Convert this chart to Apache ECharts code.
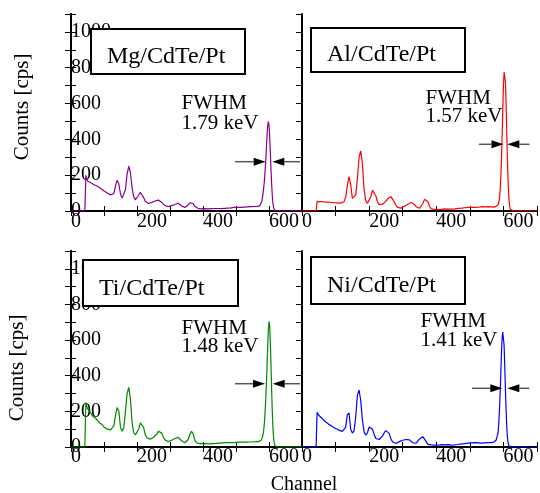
<!DOCTYPE html>
<html>
<head>
<meta charset="utf-8">
<script src="https://cdn.jsdelivr.net/npm/echarts@6/dist/echarts.min.js"></script>
<style>html,body{margin:0;padding:0;background:#fff}#c{width:540px;height:493px}</style>
</head>
<body>
<div id="c"></div>
<script>
// ---- data ----
const channels = [0, 42,
  45,50,55,60,65,70,75,80,85,90,
  95,100,105,110,115,120,125,130,135,140,
  145,150,155,160,165,170,175,180,185,190,
  195,200,205,210,215,220,225,230,235,240,
  245,250,255,260,265,270,275,280,285,290,
  295,300,305,310,315,320,325,330,335,340,
  345,350,355,360,365,370,375,380,385,390,
  395,400,405,410,415,420,425,430,435,440,
  445,450,455,460,465,470,475,480,485,490,
  495,500,505,510,515,520,525,530,535,540,
  545,550,555,560,565,
  568,570,572,574,576,578,580,582,584,586,
  588,590,592,594,596,598,600,602,604,606,
  608,610,612,614,616,618,620,622,624,626,
  628,630,
  640,650,660,670,680,690,700];

const countsMg = [0, 0,
  200,168,160,158,150,147,140,138,130,126,
  120,112,108,100,96,90,85,98,140,172,
  150,95,72,78,120,205,250,215,130,80,
  62,68,88,105,100,75,55,45,42,44,
  48,52,56,58,61,56,48,38,30,25,
  24,27,30,33,36,40,43,38,28,22,
  20,24,34,46,52,42,26,18,15,13,
  12,11,13,10,12,11,13,12,14,13,
  14,15,13,16,15,17,16,18,17,19,
  20,19,21,22,20,23,22,24,23,25,
  24,26,25,24,26,
  25,27,29,33,40,52,72,100,130,170,
  220,275,345,420,475,499,480,420,330,235,
  150,85,42,18,7,2,0,0,0,0,
  0,0,
  0,0,0,0,0,0,0];

const countsAl = [0, 0,
  52,50,53,49,51,48,50,47,49,48,
  46,48,45,47,44,46,52,75,140,192,
  150,70,62,90,180,300,335,260,120,55,
  43,50,80,115,118,85,50,36,34,38,
  45,55,68,78,80,70,50,32,20,15,
  16,20,26,32,38,44,47,45,36,24,
  16,15,22,42,65,70,52,25,12,9,
  9,10,8,11,9,10,12,10,11,12,
  11,13,12,14,15,14,16,17,18,19,
  20,19,21,22,20,23,21,22,24,21,
  23,22,24,21,23,
  22,24,22,25,24,26,28,30,35,45,
  65,110,180,280,410,560,700,775,785,720,
  590,430,280,160,80,35,12,4,1,0,
  0,0,
  0,0,0,0,0,0,0];

const countsTi = [0, 0,
  250,215,205,190,175,168,160,150,138,132,
  125,112,108,100,98,96,95,120,180,222,
  200,110,88,110,200,300,335,270,140,80,
  68,75,100,135,140,110,70,52,45,44,
  48,55,62,72,88,92,78,55,40,32,
  30,34,38,42,48,52,54,48,35,26,
  24,28,42,70,88,75,40,24,20,19,
  18,20,17,19,21,18,20,19,22,20,
  21,22,20,23,21,24,23,25,26,24,
  27,26,28,27,29,28,30,27,29,28,
  30,28,29,31,30,
  30,32,31,35,38,45,55,70,95,135,
  190,260,350,450,560,660,705,680,590,460,
  320,195,105,50,20,7,2,0,0,0,
  0,0,
  0,0,0,0,0,0,0];

const countsNi = [0, 0,
  195,178,170,160,150,142,138,128,122,115,
  110,104,100,95,92,88,86,110,180,192,
  100,78,90,170,290,320,260,150,85,67,
  80,112,122,100,70,48,40,42,50,62,
  80,92,95,75,45,28,22,20,24,30,
  34,38,40,42,43,40,32,24,20,22,
  30,45,56,58,48,30,15,11,12,10,
  11,12,10,11,13,10,12,11,13,12,
  11,13,12,11,14,16,18,20,19,21,
  22,20,23,21,24,22,23,25,22,24,
  23,25,24,26,25,
  27,26,28,30,33,38,48,65,80,130,
  200,290,400,520,610,645,640,570,450,320,
  200,110,55,22,8,2,0,0,0,0,
  0,0,
  0,0,0,0,0,0,0];

const sampleNames = ['Mg/CdTe/Pt', 'Al/CdTe/Pt', 'Ti/CdTe/Pt', 'Ni/CdTe/Pt'];
const fwhmLabels = ['1.79 keV', '1.57 keV', '1.48 keV', '1.41 keV'];
const seriesColors = ['#880088', '#ff0000', '#008800', '#0000ff'];
const xTickLabels = [0, 200, 400, 600];
const yTickLabels = [0, 200, 400, 600, 800, 1000];

// ---- chart ----
const FONT = "'Liberation Serif', 'Times New Roman', serif";
const allCounts = [countsMg, countsAl, countsTi, countsNi];
const grids = [
  {left: 71, top: 14, width: 231, height: 197},
  {left: 302, top: 14, width: 237, height: 197},
  {left: 71, top: 251, width: 231, height: 196},
  {left: 302, top: 251, width: 237, height: 196}
];
const xAxes = [], yAxes = [], series = [];
grids.forEach((g, i) => {
  const isLeft = (i % 2 === 0);
  const isTop = i < 2;
  xAxes.push({
    gridIndex: i, type: 'value', position: 'bottom', min: 0, max: 700, interval: 100,
    axisLine: {show: true, lineStyle: {color: '#000', width: 2}},
    axisTick: {show: true, inside: true, length: 5, lineStyle: {color: '#000', width: 1}},
    axisLabel: {show: true, align: 'left', verticalAlign: 'middle', margin: isTop ? 11 : 10,
      fontFamily: FONT, fontSize: 20, color: '#000', hideOverlap: false,
      formatter: v => xTickLabels.indexOf(v) >= 0 ? String(v) : ''},
    splitLine: {show: false}
  });
  xAxes.push({
    gridIndex: i, type: 'value', position: 'top', min: 0, max: 700, interval: 100,
    axisLine: {show: true, lineStyle: {color: '#000', width: 2}},
    axisTick: {show: true, inside: true, length: 5, lineStyle: {color: '#000', width: 1}},
    axisLabel: {show: false}, splitLine: {show: false}
  });
  yAxes.push({
    gridIndex: i, type: 'value', position: 'left', min: 0, max: 1100, interval: 100,
    axisLine: {show: true, lineStyle: {color: '#000', width: 2}},
    axisTick: {show: isLeft, inside: true, length: 5, lineStyle: {color: '#000', width: 1}},
    axisLabel: {show: isLeft, inside: true, align: 'left', margin: 0,
      fontFamily: FONT, fontSize: 20, color: '#000',
      formatter: v => yTickLabels.indexOf(v) >= 0 ? String(v) : ''},
    splitLine: {show: false}
  });
  yAxes.push({
    gridIndex: i, type: 'value', position: 'right', min: 0, max: 1100, interval: 100,
    axisLine: {show: isLeft, lineStyle: {color: '#000', width: 2}},
    axisTick: {show: true, inside: true, length: 6, lineStyle: {color: '#000', width: 1}},
    axisLabel: {show: false}, splitLine: {show: false}
  });
  series.push({
    type: 'line', xAxisIndex: i * 2, yAxisIndex: i * 2, showSymbol: false, symbol: 'none',
    lineStyle: {color: seriesColors[i], width: 1.2}, itemStyle: {color: seriesColors[i]},
    data: channels.map((c, k) => [c, allCounts[i][k]]), animation: false, z: 3
  });
});

// annotations
const boxes = [
  {x: 91, y: 29, w: 154, h: 45, ty: 57},
  {x: 311, y: 28, w: 154, h: 44, ty: 54.5},
  {x: 83, y: 260, w: 155, h: 46, ty: 288.7},
  {x: 311, y: 257, w: 154, h: 47, ty: 285.8}
];
const fwhmPos = [
  {x: 181.5, y1: 103.3, y2: 123.7},
  {x: 425.5, y1: 98, y2: 116.3},
  {x: 181.5, y1: 328.3, y2: 346.7},
  {x: 420.5, y1: 321.7, y2: 340}
];
const arrows = [
  {y: 161.7, l0: 235, lt: 265.7, rt: 272.3, r1: 300},
  {y: 144.3, l0: 479, lt: 503.5, rt: 507.3, r1: 529.5},
  {y: 383.7, l0: 235, lt: 265, rt: 272.7, r1: 300},
  {y: 388.3, l0: 472, lt: 502.3, rt: 507.3, r1: 529.3}
];
const graphic = [];
boxes.forEach((b, i) => {
  graphic.push({type: 'rect', z: 100, shape: {x: b.x, y: b.y, width: b.w, height: b.h},
    style: {fill: '#fff', stroke: '#000', lineWidth: 2}});
  graphic.push({type: 'text', z: 101, x: b.x + 16, y: b.ty,
    style: {text: sampleNames[i], font: '24px ' + FONT, fill: '#000', align: 'left', verticalAlign: 'middle'}});
  const f = fwhmPos[i];
  graphic.push({type: 'text', z: 101, x: f.x, y: f.y1,
    style: {text: 'FWHM', font: '21px ' + FONT, fill: '#000', align: 'left', verticalAlign: 'middle'}});
  graphic.push({type: 'text', z: 101, x: f.x, y: f.y2,
    style: {text: fwhmLabels[i], font: '21px ' + FONT, fill: '#000', align: 'left', verticalAlign: 'middle'}});
  const a = arrows[i];
  const hl = 12, hh = 4;
  graphic.push({type: 'line', z: 100, shape: {x1: a.l0, y1: a.y, x2: a.lt - hl, y2: a.y},
    style: {stroke: '#555', lineWidth: 1.5}});
  graphic.push({type: 'line', z: 100, shape: {x1: a.rt + hl, y1: a.y, x2: a.r1, y2: a.y},
    style: {stroke: '#555', lineWidth: 1.5}});
  graphic.push({type: 'polygon', z: 100, shape: {points: [[a.lt, a.y], [a.lt - hl, a.y - hh], [a.lt - hl, a.y + hh]]},
    style: {fill: '#000'}});
  graphic.push({type: 'polygon', z: 100, shape: {points: [[a.rt, a.y], [a.rt + hl, a.y - hh], [a.rt + hl, a.y + hh]]},
    style: {fill: '#000'}});
});
graphic.push({type: 'text', z: 101, x: 22, y: 107, rotation: Math.PI / 2,
  style: {text: 'Counts [cps]', font: '21px ' + FONT, fill: '#000', align: 'center', verticalAlign: 'middle'}});
graphic.push({type: 'text', z: 101, x: 17, y: 368, rotation: Math.PI / 2,
  style: {text: 'Counts [cps]', font: '21px ' + FONT, fill: '#000', align: 'center', verticalAlign: 'middle'}});
graphic.push({type: 'text', z: 101, x: 304, y: 485,
  style: {text: 'Channel', font: '20px ' + FONT, fill: '#000', align: 'center', verticalAlign: 'middle'}});

const chart = echarts.init(document.getElementById('c'), null, {renderer: 'canvas'});
chart.setOption({
  animation: false,
  backgroundColor: '#fff',
  grid: grids,
  xAxis: xAxes,
  yAxis: yAxes,
  series: series,
  graphic: graphic
});
</script>
</body>
</html>
